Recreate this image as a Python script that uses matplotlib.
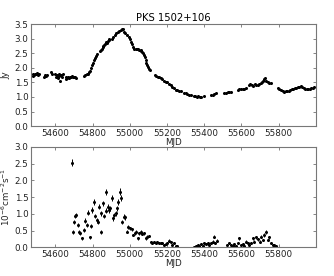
import matplotlib
matplotlib.use("Agg")
import matplotlib.pyplot as plt
from matplotlib.ticker import FormatStrFormatter

# ---- Radio (OVRO 15 GHz) light curve, Jy ----
radio_mjd = [54478, 54483, 54488, 54492, 54497, 54502, 54507, 54512,
             54540, 54545, 54550, 54555, 54577, 54582,
             54600, 54605, 54610, 54615, 54618, 54622, 54626, 54630, 54635, 54640,
             54655, 54660, 54665, 54670, 54675, 54680, 54685, 54690, 54695, 54700, 54705, 54712,
             54756, 54762, 54768, 54774, 54780, 54786, 54792, 54798, 54803, 54808, 54813, 54818, 54823,
             54842, 54846, 54850, 54854, 54858, 54862, 54866, 54870, 54874, 54878, 54882, 54886, 54890,
             54905, 54912, 54920, 54928, 54936, 54944, 54952, 54958, 54962,
             54970, 54977, 54985, 54995, 55002, 55008, 55013, 55017,
             55024, 55031, 55038, 55045, 55052, 55058, 55063, 55067, 55071, 55076, 55080, 55085,
             55089, 55094, 55099, 55104, 55108,
             55136, 55142, 55150, 55157, 55166, 55175, 55184, 55193, 55202, 55211, 55220, 55229,
             55238, 55247, 55256, 55265, 55274, 55290, 55300, 55310, 55320, 55328,
             55344, 55352, 55360, 55368, 55376, 55382, 55400,
             55436, 55445, 55454, 55463, 55506, 55515, 55525, 55535, 55544,
             55579, 55588, 55597, 55606, 55615, 55624,
             55640, 55648, 55656, 55664, 55672, 55680, 55688, 55696, 55703, 55709, 55716, 55722, 55727,
             55734, 55741, 55750, 55759,
             55795, 55804, 55813, 55822, 55830, 55838, 55846, 55854, 55862, 55870,
             55878, 55886, 55894, 55902, 55910, 55918, 55926, 55934, 55942, 55950, 55958, 55966,
             55975, 55982, 55990]
radio_flux = [1.72, 1.78, 1.75, 1.80, 1.77, 1.82, 1.76, 1.79,
              1.70, 1.75, 1.72, 1.76, 1.86, 1.80,
              1.78, 1.70, 1.75, 1.66, 1.80, 1.72, 1.56, 1.74, 1.68, 1.78,
              1.63, 1.67, 1.65, 1.68, 1.66, 1.70, 1.68, 1.72, 1.67, 1.70, 1.68, 1.66,
              1.73, 1.76, 1.78, 1.80, 1.84, 1.90, 1.98, 2.08, 2.18, 2.27, 2.35, 2.42, 2.48,
              2.58, 2.62, 2.66, 2.70, 2.74, 2.77, 2.80, 2.84, 2.87, 2.86, 2.91, 2.94, 2.97,
              3.00, 3.06, 3.12, 3.18, 3.22, 3.26, 3.29, 3.32, 3.34,
              3.24, 3.18, 3.14, 3.05, 2.98, 2.88, 2.80, 2.70,
              2.64, 2.63, 2.64, 2.63, 2.62, 2.61, 2.58, 2.55, 2.50, 2.44, 2.36, 2.27,
              2.18, 2.10, 2.04, 1.97, 1.92,
              1.76, 1.73, 1.70, 1.68, 1.64, 1.60, 1.56, 1.52, 1.50, 1.44, 1.40, 1.34,
              1.30, 1.25, 1.23, 1.22, 1.20, 1.15, 1.12, 1.09, 1.07, 1.06,
              1.03, 1.02, 1.01, 1.03, 1.01, 1.00, 1.02,
              1.06, 1.08, 1.11, 1.14, 1.13, 1.15, 1.16, 1.17, 1.18,
              1.24, 1.27, 1.26, 1.28, 1.27, 1.30,
              1.40, 1.44, 1.42, 1.38, 1.45, 1.42, 1.40, 1.44, 1.48, 1.52, 1.56, 1.60, 1.64,
              1.55, 1.50, 1.47, 1.47,
              1.32, 1.28, 1.24, 1.20, 1.18, 1.20, 1.22, 1.21, 1.24, 1.26,
              1.28, 1.30, 1.32, 1.34, 1.35, 1.36, 1.33, 1.30, 1.27, 1.26, 1.28, 1.27,
              1.30, 1.32, 1.33]

# ---- Gamma-ray (Fermi-LAT) light curve, 1e-6 ph cm^-2 s^-1 ----
gamma_mjd = [54690, 54695, 54699, 54708, 54713, 54720, 54729, 54735, 54744, 54753,
             54762, 54771, 54774, 54785, 54792, 54798, 54807, 54816, 54825, 54830,
             54835, 54843, 54848, 54855, 54864, 54870, 54875, 54882, 54889, 54896,
             54902, 54909, 54918, 54927, 54932, 54938, 54945, 54954, 54961, 54968,
             54977, 54986, 54992, 55000, 55010, 55019, 55028, 55035, 55042, 55051,
             55058, 55067, 55076, 55085, 55094, 55103, 55112, 55121, 55130, 55139,
             55148, 55157, 55166, 55175, 55184, 55193, 55202, 55211, 55220, 55229,
             55238, 55247, 55256,
             55346, 55355, 55364, 55373, 55382, 55391, 55400, 55409, 55418, 55427,
             55436, 55445, 55454, 55459, 55468,
             55522, 55535, 55544, 55553, 55561, 55570, 55579, 55588, 55597, 55606,
             55615, 55624, 55633, 55642, 55651, 55660, 55669, 55678, 55688, 55697,
             55705, 55714, 55723, 55732, 55741, 55750, 55759, 55768, 55777, 55786]
gamma_flux = [2.53, 0.47, 0.76, 0.93, 0.96, 0.67, 0.47, 0.42, 0.27, 0.52,
              0.79, 0.67, 1.03, 0.30, 0.64, 1.11, 1.36, 0.93, 0.81, 0.76,
              1.21, 1.01, 0.47, 1.31, 0.93, 1.09, 1.66, 1.21, 1.11, 1.16,
              1.46, 0.86, 0.96, 1.01, 1.16, 1.36, 1.66, 1.46, 0.76, 0.91,
              0.89, 0.47, 0.62, 0.57, 0.54, 0.37, 0.42, 0.47, 0.27, 0.42,
              0.47, 0.40, 0.42, 0.27, 0.32, 0.34, 0.17, 0.14, 0.17, 0.14,
              0.17, 0.12, 0.14, 0.12, 0.07, 0.10, 0.14, 0.20, 0.17, 0.07,
              0.12, 0.04, 0.05,
              0.02, 0.04, 0.07, 0.04, 0.09, 0.05, 0.12, 0.09, 0.14, 0.07,
              0.12, 0.17, 0.32, 0.14, 0.20,
              0.07, 0.12, 0.07, 0.04, 0.09, 0.04, 0.12, 0.27, 0.07, 0.09,
              0.04, 0.17, 0.12, 0.07, 0.14, 0.27, 0.17, 0.30, 0.24, 0.17,
              0.32, 0.22, 0.37, 0.47, 0.22, 0.30, 0.12, 0.07, 0.07, 0.04]
gamma_err = [0.10, 0.06, 0.07, 0.07, 0.07, 0.06, 0.06, 0.05, 0.05, 0.06,
             0.07, 0.06, 0.08, 0.05, 0.06, 0.08, 0.09, 0.07, 0.07, 0.06,
             0.08, 0.07, 0.06, 0.08, 0.07, 0.08, 0.09, 0.08, 0.08, 0.08,
             0.09, 0.07, 0.07, 0.07, 0.08, 0.09, 0.10, 0.09, 0.06, 0.07,
             0.07, 0.05, 0.06, 0.05, 0.05, 0.04, 0.05, 0.05, 0.04, 0.05,
             0.05, 0.04, 0.04, 0.04, 0.04, 0.04, 0.03, 0.03, 0.03, 0.03,
             0.03, 0.03, 0.03, 0.03, 0.03, 0.03, 0.03, 0.04, 0.03, 0.03,
             0.03, 0.02, 0.02,
             0.02, 0.02, 0.03, 0.02, 0.03, 0.02, 0.03, 0.03, 0.03, 0.03,
             0.03, 0.04, 0.05, 0.03, 0.04,
             0.03, 0.03, 0.03, 0.02, 0.03, 0.02, 0.03, 0.04, 0.03, 0.03,
             0.02, 0.04, 0.03, 0.03, 0.03, 0.04, 0.04, 0.05, 0.04, 0.04,
             0.05, 0.04, 0.05, 0.06, 0.04, 0.05, 0.03, 0.03, 0.03, 0.02]

title = "PKS 1502+106"
xlim = (54470, 56000)
xticks = [54600, 54800, 55000, 55200, 55400, 55600, 55800]

fig = plt.figure(figsize=(3.34, 2.76), dpi=100)
ax1 = fig.add_axes([0.093, 0.543, 0.853, 0.370])
ax2 = fig.add_axes([0.093, 0.104, 0.853, 0.364])

fs = 6.3
for ax in (ax1, ax2):
    ax.set_xlim(*xlim)
    ax.set_xticks(xticks)
    ax.tick_params(direction="in", top=True, right=True, labelsize=fs,
                   length=2.5, width=0.5, pad=2, color="#555555",
                   labelcolor="#222222")
    for s in ax.spines.values():
        s.set_color("#777777")
        s.set_linewidth(0.8)
    ax.set_xlabel("MJD", fontsize=fs, labelpad=0, color="#222222")
    ax.yaxis.set_major_formatter(FormatStrFormatter("%.1f"))

ax1.plot(radio_mjd, radio_flux, "o", color="black", markersize=2.2, markeredgewidth=0)
ax1.set_ylim(0, 3.5)
ax1.set_yticks([0.0, 0.5, 1.0, 1.5, 2.0, 2.5, 3.0, 3.5])
ax1.set_ylabel("Jy", fontsize=fs, labelpad=3, color="#222222")
ax1.set_title(title, fontsize=7.2, pad=2)

ax2.errorbar(gamma_mjd, gamma_flux, yerr=gamma_err, fmt="o", color="black",
             markersize=2.2, markeredgewidth=0, elinewidth=0.7, capsize=0)
ax2.set_ylim(0, 3.0)
ax2.set_yticks([0.0, 0.5, 1.0, 1.5, 2.0, 2.5, 3.0])
ax2.set_ylabel(r"$10^{-6}$cm$^{-2}$s$^{-1}$", fontsize=fs, labelpad=2, color="#222222")

fig.savefig("out.png", dpi=100)
